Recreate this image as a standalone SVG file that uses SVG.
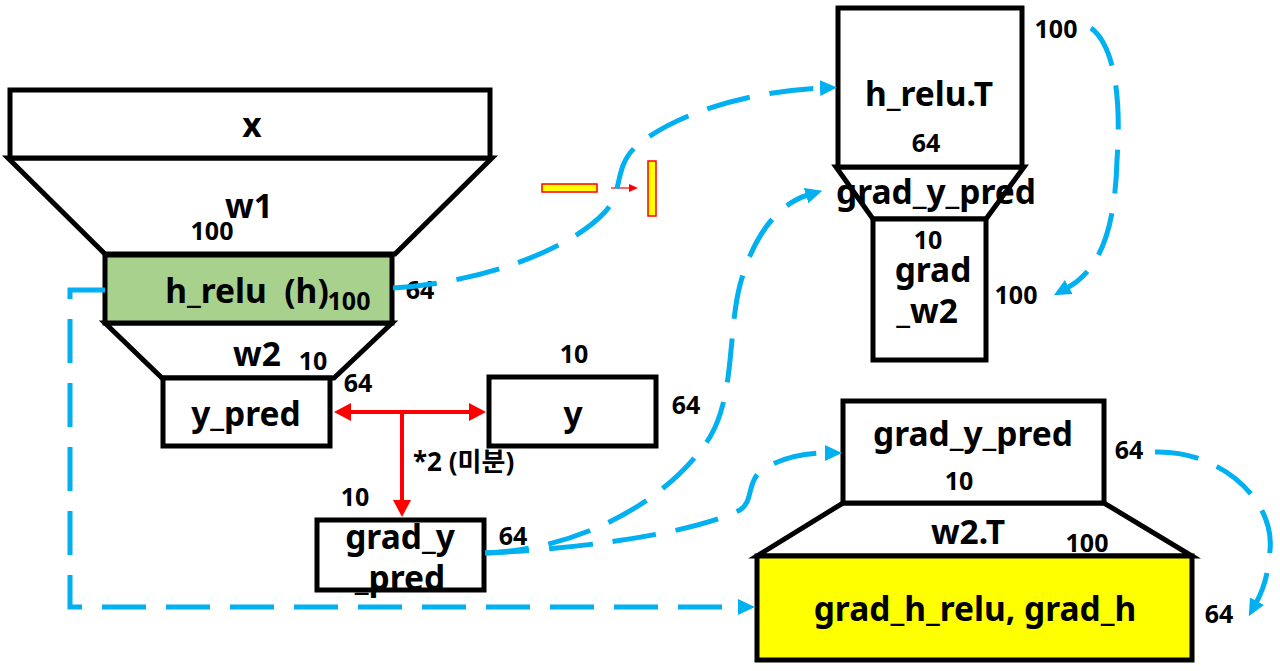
<svg xmlns="http://www.w3.org/2000/svg" width="1280" height="671" viewBox="0 0 1280 671">
  <style>
    .box { fill: #fff; stroke: #000; stroke-width: 5; }
    .lbl { font-family: "Noto Sans", "Noto Sans CJK KR", sans-serif; font-weight: 700; font-size: 33.5px; fill: #000; text-anchor: middle; }
    .num { font-family: "Noto Sans", "Noto Sans CJK KR", sans-serif; font-weight: 700; font-size: 25px; fill: #000; text-anchor: middle; }
    .note { font-family: "Noto Sans", "Noto Sans CJK KR", sans-serif; font-weight: 700; font-size: 26px; fill: #000; }
    .flow { fill: none; stroke: #00B0F0; stroke-width: 5; stroke-dasharray: 44 20; marker-end: url(#blueHead); }
    .calc { fill: none; stroke: #FF0000; stroke-width: 4; }
  </style>
  <defs>
    <marker id="blueHead" markerUnits="userSpaceOnUse" markerWidth="18" markerHeight="16" refX="2" refY="8" orient="auto">
      <path d="M0,0 L17,8 L0,16 z" fill="#00B0F0"/>
    </marker>
    <marker id="redHead" markerUnits="userSpaceOnUse" markerWidth="18" markerHeight="18" refX="2" refY="9" orient="auto-start-reverse">
      <path d="M0,0 L17,9 L0,18 z" fill="#FF0000"/>
    </marker>
    <marker id="redSmall" markerUnits="userSpaceOnUse" markerWidth="10" markerHeight="8" refX="1" refY="4" orient="auto">
      <path d="M0,0 L9,4 L0,8 z" fill="#FF0000"/>
    </marker>
  </defs>

  <!-- forward pass: x -> w1 -> h_relu -> w2 -> y_pred -->
  <g id="w1">
    <polygon class="box" points="8,158 492,158 395,254 105,254"/>
    <text class="lbl" x="249" y="218">w1</text>
    <text class="num" x="212" y="240">100</text>
  </g>
  <g id="x">
    <rect class="box" x="10" y="90" width="480" height="68"/>
    <text class="lbl" x="252" y="137">x</text>
  </g>
  <g id="w2">
    <polygon class="box" points="105,323 392,323 334,378 162,378"/>
    <text class="lbl" x="257" y="366">w2</text>
    <text class="num" x="313" y="370">10</text>
  </g>
  <g id="h_relu">
    <rect x="105" y="255" width="287" height="68" fill="#A9D18E" stroke="#000" stroke-width="5"/>
    <text class="lbl" x="247" y="303" xml:space="preserve">h_relu  (h)</text>
    <text class="num" x="349" y="310">100</text>
    <text class="num" x="420" y="299">64</text>
  </g>
  <g id="y_pred">
    <rect class="box" x="163" y="378" width="167" height="68"/>
    <text class="lbl" x="246" y="426">y_pred</text>
    <text class="num" x="358" y="392">64</text>
  </g>
  <g id="y">
    <rect class="box" x="489" y="377" width="167" height="69"/>
    <text class="lbl" x="573" y="426">y</text>
    <text class="num" x="574" y="363">10</text>
    <text class="num" x="686" y="414">64</text>
  </g>
  <g id="grad_y_pred">
    <rect class="box" x="317" y="520" width="167" height="70"/>
    <text class="lbl" x="400" y="549">grad_y</text>
    <text class="lbl" x="400" y="590">_pred</text>
    <text class="num" x="355" y="506">10</text>
    <text class="num" x="513" y="545">64</text>
  </g>

  <!-- transpose marker: horizontal bar turned vertical -->
  <g id="transpose-icon">
    <rect x="542" y="184" width="55" height="8" fill="#FFFF00" stroke="#FF0000" stroke-width="1.5"/>
    <line x1="611" y1="188" x2="630" y2="188" stroke="#FF0000" stroke-width="1.2" marker-end="url(#redSmall)"/>
    <rect x="648" y="161" width="8" height="55" fill="#FFFF00" stroke="#FF0000" stroke-width="1.5"/>
  </g>

  <!-- grad_w2 = h_relu.T . grad_y_pred -->
  <g id="grad_w2_calc">
    <polygon class="box" points="836,167 1024,167 986,219 873,219"/>
    <rect class="box" x="838" y="8" width="184" height="159"/>
    <rect class="box" x="873" y="219" width="113" height="141"/>
    <text class="lbl" x="929" y="106">h_relu.T</text>
    <text class="num" x="926" y="152">64</text>
    <text class="lbl" x="936" y="204">grad_y_pred</text>
    <text class="num" x="928" y="249">10</text>
    <text class="lbl" x="933" y="282">grad</text>
    <text class="lbl" x="927" y="323">_w2</text>
    <text class="num" x="1056" y="38">100</text>
    <text class="num" x="1016" y="304">100</text>
  </g>

  <!-- grad_h_relu = grad_y_pred . w2.T -->
  <g id="grad_h_calc">
    <polygon class="box" points="843,503 1104,503 1192,556 757,556"/>
    <rect class="box" x="843" y="401" width="261" height="102"/>
    <rect x="757" y="556" width="435" height="104" fill="#FFFF00" stroke="#000" stroke-width="5"/>
    <text class="lbl" x="973" y="446">grad_y_pred</text>
    <text class="num" x="959" y="490">10</text>
    <text class="num" x="1129" y="459">64</text>
    <text class="lbl" x="968" y="544">w2.T</text>
    <text class="num" x="1087" y="552">100</text>
    <text class="lbl" x="975" y="621">grad_h_relu, grad_h</text>
    <text class="num" x="1219" y="623">64</text>
  </g>

  <g id="connectors">
    <path class="calc" d="M349,412 H471" marker-start="url(#redHead)" marker-end="url(#redHead)"/>
    <path class="calc" d="M402,414 V502" marker-end="url(#redHead)"/>
    <text class="note" x="413" y="471">*2 (미분)</text>

    <path class="flow" d="M105,290 H70 V607 H740"/>
    <path class="flow" d="M393,288 C480,283 570,250 605,212 C625,190 612,165 640,143 C690,105 770,90 822,88"/>
    <path class="flow" d="M485,553 C580,550 670,500 710,437 C735,395 728,330 740,285 C752,240 775,205 808,195"/>
    <path class="flow" d="M485,553 C600,548 700,530 740,510 C755,500 745,480 765,468 C785,457 805,453 827,453"/>
    <path class="flow" d="M1091,28 C1120,50 1120,120 1117,160 C1115,230 1100,270 1067,288"/>
    <path class="flow" d="M1155,452 C1220,450 1275,500 1270,550 C1268,578 1262,592 1256,603"/>
  </g>
</svg>
